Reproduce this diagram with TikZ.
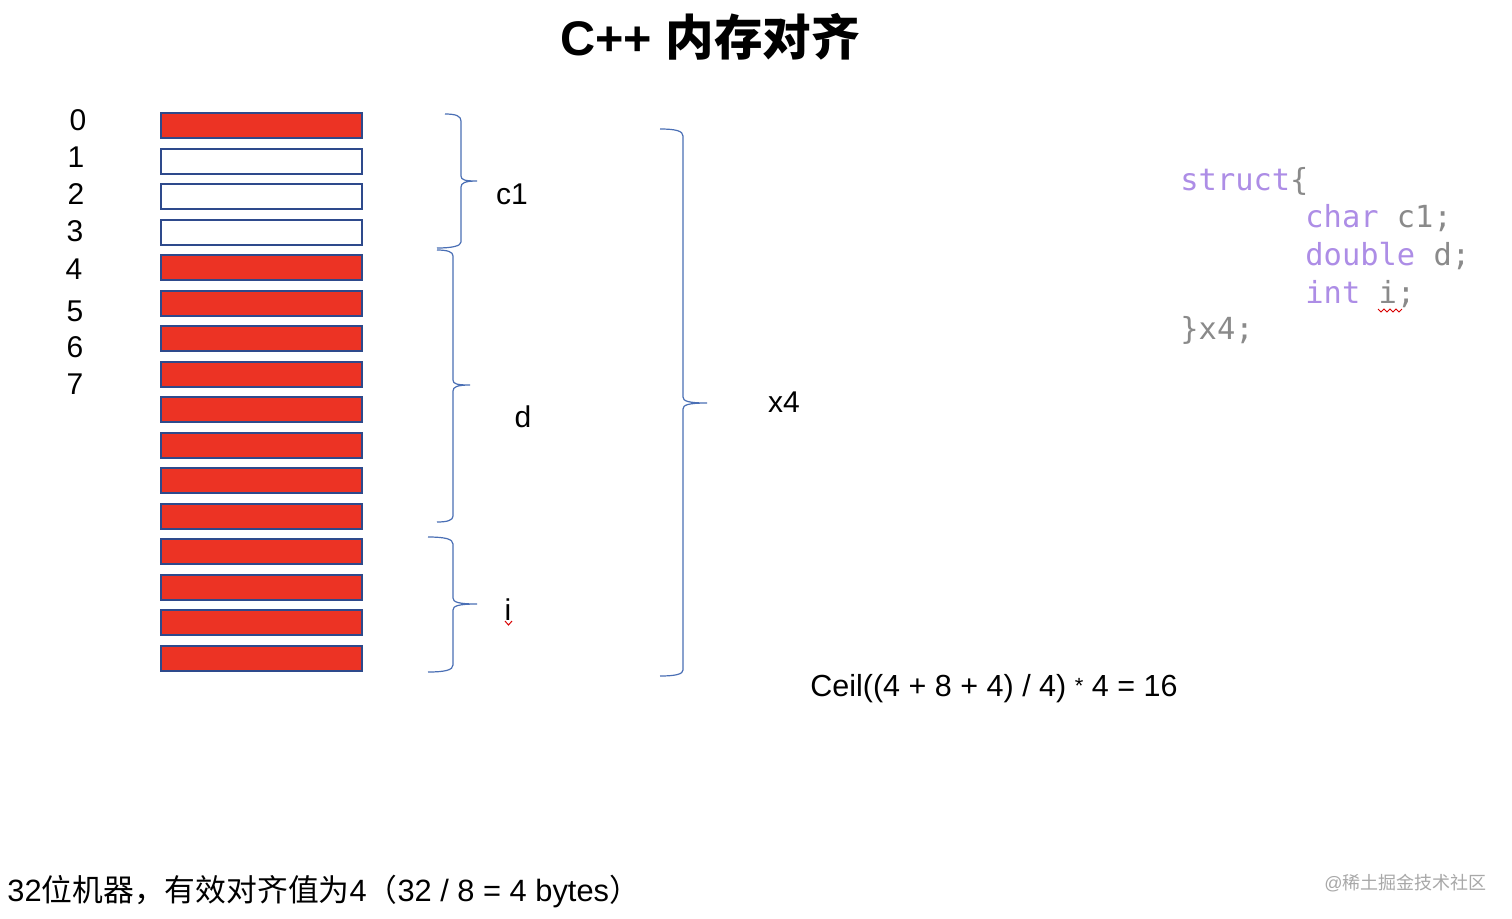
\documentclass[tikz,border=0pt]{standalone}
\usepackage{fontspec}
\setmainfont{Liberation Sans}
\setmonofont{DejaVu Sans Mono}
\newfontfamily\cjk{Noto Sans CJK SC}
\definecolor{barred}{HTML}{EC3324}
\definecolor{barblue}{HTML}{2E4A8C}
\definecolor{bracecol}{HTML}{4A6FB5}
\definecolor{kwpurple}{HTML}{AD8DE6}
\definecolor{codegrey}{HTML}{8A8A8A}
\definecolor{wmgrey}{HTML}{A8A8A8}
\begin{document}
\begin{tikzpicture}[x=0.5pt,y=-0.5pt,
  cell/.style={draw=barblue,line width=1pt,minimum width=100.8pt,minimum height=12.5pt,inner sep=0pt},
  fullcell/.style={cell,fill=barred},
  emptycell/.style={cell,fill=white},
  lbl/.style={font=\fontsize{15}{18}\selectfont,inner sep=0pt},
  code/.style={font=\ttfamily\fontsize{15.2}{18}\selectfont,inner sep=0pt,anchor=west},
  bracestyle/.style={draw=bracecol,line width=0.6pt},
  squig/.style={draw=red!85!black,line width=0.5pt}]
\path[fill=white,use as bounding box] (0,0) rectangle (1512,918);

% title
\node[inner sep=0pt] (title) at (710,37) {\fontsize{24.3}{28}\selectfont\bfseries C++ {\cjk\bfseries 内存对齐}};

% cells
\foreach \k in {0,...,15}{
  \pgfmathsetmacro\yy{125.5+35.53*\k}
  \ifnum\k>0 \ifnum\k<4
    \node[emptycell] (b\k) at (261.5,\yy) {};
  \else
    \node[fullcell] (b\k) at (261.5,\yy) {};
  \fi\else
    \node[fullcell] (b\k) at (261.5,\yy) {};
  \fi
}

% offsets
\node[lbl] (n0) at (78,120) {0};
\node[lbl] (n1) at (76,157) {1};
\node[lbl] (n2) at (76,194) {2};
\node[lbl] (n3) at (75,231) {3};
\node[lbl] (n4) at (74,269) {4};
\node[lbl] (n5) at (75,311) {5};
\node[lbl] (n6) at (75,347) {6};
\node[lbl] (n7) at (75,384) {7};

% braces
% c1
\draw[bracestyle] (445,114) .. controls (456,114) and (461,116) .. (461,121) -- (461,176)
  .. controls (461,180) and (465,181) .. (477,181)
  .. controls (465,181) and (461,183) .. (461,187) -- (461,242)
  .. controls (461,246) and (452,248) .. (437,248);
% d
\draw[bracestyle] (437,250) .. controls (448,250) and (453,252) .. (453,256) -- (453,380)
  .. controls (453,384) and (457,385) .. (470,385)
  .. controls (457,385) and (453,387) .. (453,391) -- (453,516)
  .. controls (453,520) and (448,522) .. (437,522);
% i
\draw[bracestyle] (428,537) .. controls (445,537) and (453,539) .. (453,544) -- (453,598)
  .. controls (453,602) and (458,604) .. (477,604)
  .. controls (458,604) and (453,606) .. (453,610) -- (453,665)
  .. controls (453,670) and (445,672) .. (428,672);
% x4
\draw[bracestyle] (660,129) .. controls (676,129) and (683,131) .. (683,136) -- (683,397)
  .. controls (683,401) and (688,403) .. (707,403)
  .. controls (688,403) and (683,405) .. (683,409) -- (683,670)
  .. controls (683,674) and (676,676) .. (660,676);

% field labels
\node[lbl] (lc1) at (512,194) {c1};
\node[lbl] (ld) at (523,417) {d};
\node[lbl] (li) at (508,610) {i};
\draw[squig] (505,621) -- (508.5,625) -- (512,621);
\node[lbl] (lx4) at (784,402) {x4};

% formula
\node[lbl,anchor=west,font=\fontsize{15.25}{18}\selectfont] (formula) at (810,689) {Ceil((4 + 8 + 4) / 4) \raisebox{0.1em}{\fontsize{11}{12}\selectfont *} 4 = 16};

% code
\node[code] (c0) at (1180,181) {\textcolor{kwpurple}{struct}\textcolor{codegrey}{\{}};
\node[code] (c1) at (1305,218) {\textcolor{kwpurple}{char}\textcolor{codegrey}{\ c1;}};
\node[code] (c2) at (1305,256) {\textcolor{kwpurple}{double}\textcolor{codegrey}{\ d;}};
\node[code] (c3) at (1305,294) {\textcolor{kwpurple}{int}\textcolor{codegrey}{\ i;}};
\node[code] (c4) at (1180,330) {\textcolor{codegrey}{\}x4;}};
\draw[squig] (1378,309) -- (1381,312) -- (1384,309) -- (1387,312) -- (1390,309) -- (1393,312) -- (1396,309) -- (1399,312) -- (1402,309);

% bottom note
\node[lbl,anchor=west,font=\fontsize{15.4}{18}\selectfont] (note) at (7,891) {32{\cjk 位机器，有效对齐值为}4{\cjk （}32 / 8 = 4 bytes{\cjk ）}};

% watermark
\node[inner sep=0pt,anchor=east,text=wmgrey] (wm) at (1487,883) {\fontsize{9}{11}\selectfont @{\cjk 稀土掘金技术社区}};
\end{tikzpicture}
\end{document}
